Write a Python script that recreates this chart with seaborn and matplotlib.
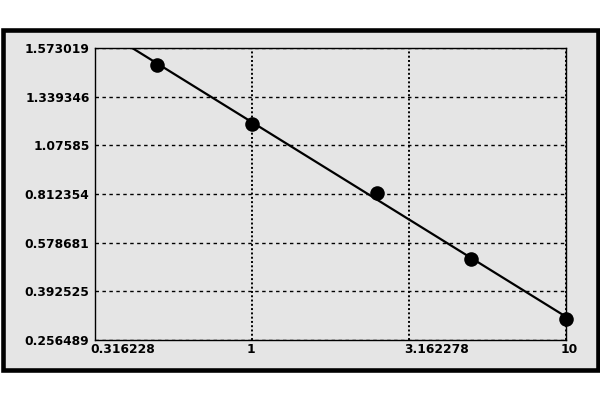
import numpy as np
import matplotlib
matplotlib.use("Agg")
import matplotlib.pyplot as plt
import matplotlib.transforms as mtransforms
from matplotlib.patches import Rectangle
from matplotlib.ticker import FixedLocator, FixedFormatter, NullLocator
import seaborn as sns

# data
x_vals = [0.5, 1.0, 2.5, 5.0, 10.0]
y_vals = [1.491, 1.190, 0.8195, 0.516, 0.3143]

x_ticks = [0.316228, 1.0, 3.162278, 10.0]
x_tick_labels = ["0.316228", "1", "3.162278", "10"]
y_ticks = [0.256489, 0.392525, 0.578681, 0.812354, 1.07585, 1.339346, 1.573019]
y_tick_labels = ["0.256489", "0.392525", "0.578681", "0.812354", "1.07585", "1.339346", "1.573019"]

BG = "#e5e5e5"

# y axis: tick values sit at evenly spaced positions
yt = np.array(y_ticks)
yp = np.arange(len(yt), dtype=float)


def fwd(v):
    v = np.asarray(v, dtype=float)
    p = np.interp(v, yt, yp)
    p = np.where(v < yt[0], (v - yt[0]) / (yt[1] - yt[0]), p)
    p = np.where(v > yt[-1], yp[-1] + (v - yt[-1]) / (yt[-1] - yt[-2]), p)
    return p


def inv(p):
    p = np.asarray(p, dtype=float)
    v = np.interp(p, yp, yt)
    v = np.where(p < yp[0], yt[0] + p * (yt[1] - yt[0]), v)
    v = np.where(p > yp[-1], yt[-1] + (p - yp[-1]) * (yt[-1] - yt[-2]), v)
    return v


# straight fit in the plotted coordinates
slope, icpt = np.polyfit(np.log10(x_vals), fwd(y_vals), 1)
fit_x = np.array([x_ticks[0], x_ticks[-1]])
fit_y = inv(slope * np.log10(fit_x) + icpt)

fig = plt.figure(figsize=(6, 4), dpi=100)
fig.patch.set_facecolor("white")
fig.patches.append(Rectangle((2.5 / 600, 30 / 400), 595.5 / 600, 340 / 400,
                             transform=fig.transFigure, facecolor=BG,
                             edgecolor="black", linewidth=3.3, zorder=-5))

ax = fig.add_axes([95 / 600, 60 / 400, 471 / 600, 292 / 400])
ax.set_facecolor(BG)
ax.set_xscale("log")
ax.set_yscale("function", functions=(fwd, inv))

sns.lineplot(x=fit_x, y=fit_y, ax=ax, color="black", linewidth=1.6, zorder=3)
sns.scatterplot(x=x_vals, y=y_vals, ax=ax, color="black", s=110, marker="o",
                edgecolor="black", linewidth=0, zorder=4, clip_on=False)

ax.set_xlim(x_ticks[0], x_ticks[-1])
ax.set_ylim(y_ticks[0], y_ticks[-1])

ax.xaxis.set_major_locator(FixedLocator(x_ticks))
ax.xaxis.set_major_formatter(FixedFormatter(x_tick_labels))
ax.xaxis.set_minor_locator(NullLocator())
ax.yaxis.set_major_locator(FixedLocator(y_ticks))
ax.yaxis.set_major_formatter(FixedFormatter(y_tick_labels))
ax.yaxis.set_minor_locator(NullLocator())

ax.xaxis.grid(True, color="black", linestyle=(0, (1, 1.2)), linewidth=1.4)
ax.yaxis.grid(True, color="black", linestyle=(0, (2.5, 2.5)), linewidth=1.0)
ax.set_axisbelow(True)

ax.tick_params(axis="both", length=0, labelsize=8.8, colors="black")
ax.tick_params(axis="y", pad=4)
ax.tick_params(axis="x", pad=2)
for lab in ax.get_yticklabels() + ax.get_xticklabels():
    lab.set_fontweight("bold")
    lab.set_fontfamily("DejaVu Sans")

shift = mtransforms.ScaledTranslation(-5 / 100, 0, fig.dpi_scale_trans)
for lab in ax.get_xticklabels():
    lab.set_horizontalalignment("left")
    lab.set_transform(lab.get_transform() + shift)

for sp in ax.spines.values():
    sp.set_color("black")
    sp.set_linewidth(1.0)

ax.set_xlabel("")
ax.set_ylabel("")

fig.savefig("out.png", dpi=100, facecolor="white")
